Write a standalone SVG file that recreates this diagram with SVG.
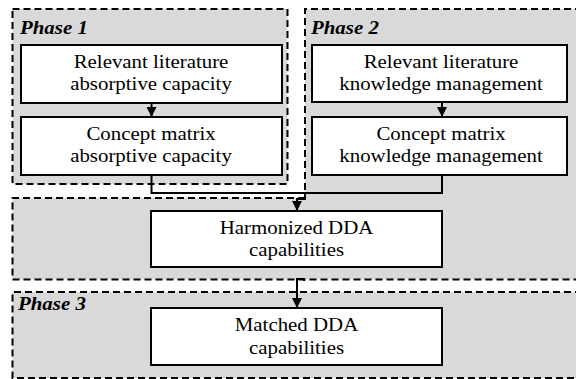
<svg xmlns="http://www.w3.org/2000/svg" width="576" height="379" viewBox="0 0 576 379">
  <style>
    .bg { fill: #d9d9d9; stroke: none; }
    .dash { fill: none; stroke: #000; stroke-width: 2; stroke-dasharray: 7 4; }
    .box { fill: #fff; stroke: #000; stroke-width: 2; }
    text { font-family: 'Liberation Serif', 'Times New Roman', Times, serif; }
    .t { font-size: 18px; fill: #000; text-anchor: middle; }
    .ph { font-size: 18px; font-weight: bold; font-style: italic; fill: #000; }
    .conn { fill: none; stroke: #000; stroke-width: 2; }
  </style>
  <defs>
    <marker id="arrow" markerUnits="userSpaceOnUse" markerWidth="10" markerHeight="10" refX="10" refY="5" orient="auto">
      <path d="M0,0 L10,5 L0,10 z" fill="#000"/>
    </marker>
  </defs>
  <rect width="576" height="379" fill="#fff"/>
  <g id="harmonized-group">
    <rect class="bg" x="12.5" y="198" width="570" height="81.5"/>
    <path class="dash" d="M305,198 H12.5 V279.5 H582"/>
  </g>

  <g id="phase1">
    <rect class="bg" x="12.5" y="9" width="275" height="175"/>
    <rect class="dash" x="12.5" y="9" width="275" height="175"/>
    <text class="ph" x="20" y="34" transform="translate(20,34) scale(1.16,1) translate(-20,-34)">Phase 1</text>
  </g>

  <g id="phase2">
    <rect class="bg" x="305" y="9" width="277" height="192"/>
    <path class="dash" d="M582,9 H305 V200"/>
    <text class="ph" x="311" y="34" transform="translate(311,34) scale(1.16,1) translate(-311,-34)">Phase 2</text>
  </g>

  <g id="phase3">
    <rect class="bg" x="12.5" y="292" width="570" height="86"/>
    <path class="dash" d="M582,292 H12.5 V378 H582"/>
    <text class="ph" x="18" y="310" transform="translate(18,310) scale(1.16,1) translate(-18,-310)">Phase 3</text>
  </g>

  <g id="n1">
    <rect class="box" x="21" y="45" width="261" height="58"/>
    <g transform="translate(151,0) scale(1.16,1)">
      <text class="t" x="0" y="68">Relevant literature</text>
      <text class="t" x="0" y="90">absorptive capacity</text>
    </g>
  </g>
  <g id="n2">
    <rect class="box" x="21" y="117" width="261" height="58"/>
    <g transform="translate(151,0) scale(1.16,1)">
      <text class="t" x="0" y="140">Concept matrix</text>
      <text class="t" x="0" y="162">absorptive capacity</text>
    </g>
  </g>
  <g id="n3">
    <rect class="box" x="312" y="45" width="255" height="57"/>
    <g transform="translate(441,0) scale(1.16,1)">
      <text class="t" x="0" y="68">Relevant literature</text>
      <text class="t" x="0" y="90">knowledge management</text>
    </g>
  </g>
  <g id="n4">
    <rect class="box" x="312" y="117" width="255" height="58"/>
    <g transform="translate(441,0) scale(1.16,1)">
      <text class="t" x="0" y="140">Concept matrix</text>
      <text class="t" x="0" y="162">knowledge management</text>
    </g>
  </g>
  <g id="n5">
    <rect class="box" x="151" y="211" width="291" height="56"/>
    <g transform="translate(296.5,0) scale(1.16,1)">
      <text class="t" x="0" y="234">Harmonized DDA</text>
      <text class="t" x="0" y="256">capabilities</text>
    </g>
  </g>
  <g id="n6">
    <rect class="box" x="151" y="308" width="291" height="57"/>
    <g transform="translate(296.5,0) scale(1.16,1)">
      <text class="t" x="0" y="331">Matched DDA</text>
      <text class="t" x="0" y="354">capabilities</text>
    </g>
  </g>
  <g id="connectors">
    <path class="conn" d="M151.5,103 V117" marker-end="url(#arrow)"/>
    <path class="conn" d="M442,102 V117" marker-end="url(#arrow)"/>
    <path class="conn" d="M151.5,175 V193 H442 V175"/>
    <path class="conn" d="M305,193 V199 H297 V211" marker-end="url(#arrow)"/>
    <path class="conn" d="M304,281 V279 H297 V308" marker-end="url(#arrow)"/>
  </g>
</svg>
